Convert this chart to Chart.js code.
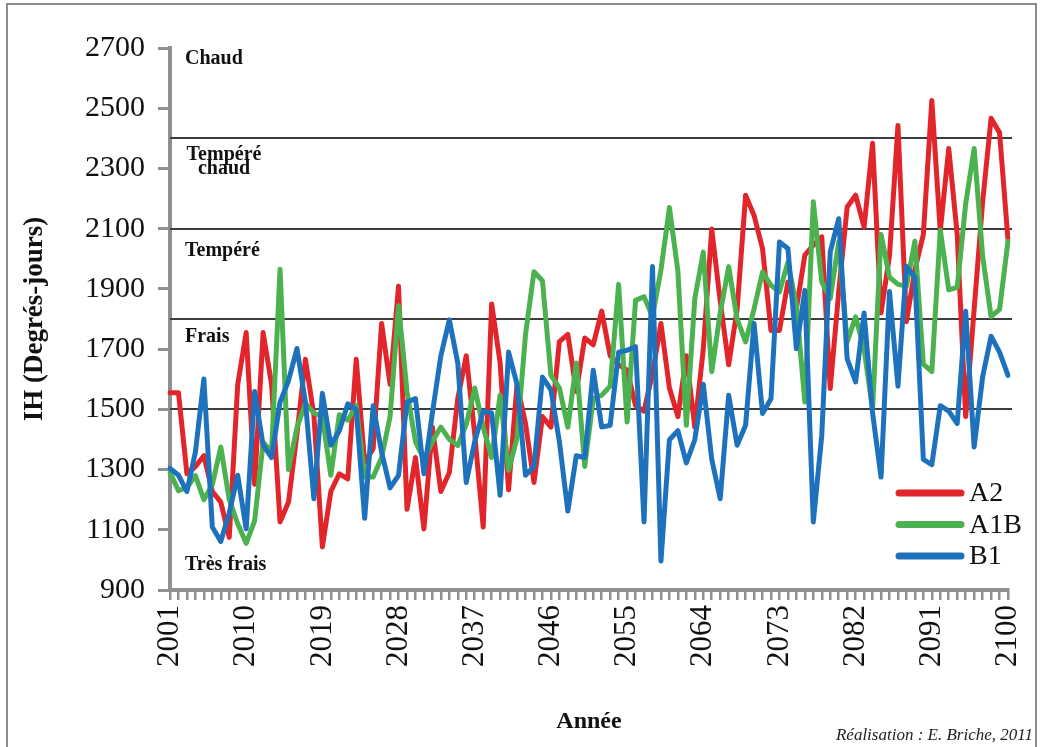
<!DOCTYPE html>
<html>
<head>
<meta charset="utf-8">
<script src="https://cdn.jsdelivr.net/npm/chart.js@4.4.1/dist/chart.umd.min.js"></script>
<style>
  html,body{margin:0;padding:0;background:#fff}
  #wrap{width:1043px;height:747px}
</style>
</head>
<body>
<div id="wrap"><canvas id="c" width="1043" height="747"></canvas></div>
<script>
/* IH (indice héliothermique) 2001-2100, scénarios A2 / A1B / B1 */
const annees = Array.from({length:100},(_,i)=>2001+i);
const anneesAffichees = [2001,2010,2019,2028,2037,2046,2055,2064,2073,2082,2091,2100];

const a2 = [
  1555,1555,1286,1310,1346,1227,1192,1075,1583,1755,
  1251,1755,1583,1126,1192,1420,1666,1480,1043,1227,
  1286,1269,1666,1322,1370,1785,1583,1909,1168,1340,
  1103,1441,1227,1290,1536,1678,1417,1109,1850,1654,
  1233,1583,1453,1257,1476,1441,1725,1749,1559,1737,
  1714,1826,1678,1648,1630,1512,1494,1619,1785,1571,
  1476,1678,1441,1700,2099,1860,1648,1832,2211,2144,
  2034,1762,1762,1923,1834,2012,2045,2073,1569,1890,
  2172,2211,2105,2384,1820,2010,2443,1791,1963,2081,
  2526,2093,2366,2081,1476,1832,2188,2467,2419,2063
];
const a1b = [
  1290,1230,1240,1280,1200,1250,1375,1200,1120,1055,
  1130,1390,1360,1965,1300,1440,1520,1488,1476,1281,
  1482,1464,1512,1275,1275,1340,1476,1844,1559,1393,
  1334,1393,1441,1400,1380,1450,1571,1441,1340,1547,
  1298,1405,1749,1957,1927,1613,1571,1441,1654,1310,
  1536,1547,1577,1915,1458,1862,1874,1808,1963,2170,
  1960,1447,1868,2022,1625,1820,1974,1800,1724,1834,
  1956,1912,1890,1989,1845,1524,2189,1923,1868,2056,
  1724,1807,1700,1500,2081,1939,1915,1909,2058,1650,
  1625,2095,1897,1905,2182,2366,2010,1808,1832,2058
];
const b1 = [
  1304,1281,1227,1358,1601,1109,1061,1156,1281,1103,
  1559,1381,1340,1524,1595,1702,1524,1203,1553,1381,
  1429,1518,1500,1138,1512,1358,1239,1281,1524,1536,
  1286,1488,1678,1797,1654,1257,1393,1494,1488,1215,
  1690,1583,1281,1310,1607,1565,1393,1162,1346,1340,
  1630,1441,1447,1690,1696,1708,1126,1974,996,1399,
  1429,1322,1399,1583,1334,1203,1547,1381,1447,1785,
  1486,1535,2056,2034,1701,1895,1126,1414,2023,2133,
  1668,1591,1820,1488,1275,1891,1577,1974,1939,1334,
  1316,1512,1494,1453,1826,1375,1607,1743,1690,1613
];

const seuils = [1500,1800,2100,2400];
const zones = [
  {txt:'Chaud', v:2663},
  {txt:'Tempéré', v:2345, centre:true},
  {txt:'chaud', v:2300, centre:true},
  {txt:'Tempéré', v:2026},
  {txt:'Frais', v:1740},
  {txt:'Très frais', v:983}
];

const SERIF = "'Liberation Serif', serif";

/* cadre, seuils, zones, légende, crédit */
const decor = {
  id:'decor',
  beforeDraw(ch){
    const c = ch.ctx;
    c.save();
    c.fillStyle = '#fff'; c.fillRect(0,0,ch.width,ch.height);
    c.strokeStyle = '#8c8c8c'; c.lineWidth = 2;
    c.strokeRect(7,4,1029,800);
    c.restore();
  },
  beforeDatasetsDraw(ch){
    const {ctx:c, chartArea:a, scales:{y}} = ch;
    c.save();
    c.strokeStyle = '#3d3d3d'; c.lineWidth = 2;
    seuils.forEach(v=>{
      const py = Math.round(y.getPixelForValue(v));
      c.beginPath(); c.moveTo(a.left,py); c.lineTo(a.right+4,py); c.stroke();
    });
    c.fillStyle = '#111'; c.font = 'bold 20px ' + SERIF; c.textBaseline = 'middle';
    zones.forEach(z=>{
      c.textAlign = z.centre ? 'center' : 'left';
      c.fillText(z.txt, z.centre ? 224 : 185, y.getPixelForValue(z.v));
    });
    c.restore();
  },
  afterDraw(ch){
    const c = ch.ctx;
    c.save();
    ch.data.datasets.forEach((d,i)=>{
      const py = 493 + i*31.5;
      c.strokeStyle = d.borderColor; c.lineWidth = 7; c.lineCap = 'round';
      c.beginPath(); c.moveTo(899,py); c.lineTo(961,py); c.stroke();
      c.fillStyle = '#111'; c.font = '28px ' + SERIF; c.textBaseline = 'middle'; c.textAlign = 'left';
      c.fillText(d.label, 969, py+1);
    });
    c.font = 'italic 17px ' + SERIF; c.textAlign = 'right'; c.fillStyle = '#222';
    c.fillText('Réalisation : E. Briche, 2011', 1033, 736);
    c.restore();
  }
};

new Chart(document.getElementById('c'), {
  type:'line',
  data:{
    labels:annees,
    datasets:[
      {label:'A2',  data:a2,  borderColor:'#e2252b', order:2},
      {label:'A1B', data:a1b, borderColor:'#4bb24f', order:1},
      {label:'B1',  data:b1,  borderColor:'#1e72bd', order:0}
    ]
  },
  options:{
    responsive:false, animation:false, devicePixelRatio:1,
    layout:{padding:{left:0,right:35,top:48,bottom:0}},
    plugins:{legend:{display:false}, tooltip:{enabled:false}},
    elements:{
      point:{radius:0},
      line:{tension:0, borderWidth:5, borderJoinStyle:'round', borderCapStyle:'round', fill:false}
    },
    scales:{
      x:{
        offset:false,
        grid:{drawOnChartArea:false, drawTicks:true, tickLength:10, color:'#8f8f8f', lineWidth:2.5},
        border:{display:true, color:'#8f8f8f', width:4},
        ticks:{
          autoSkip:false, maxRotation:90, minRotation:90, padding:5, color:'#111',
          font:{family:SERIF, size:31},
          callback(v,i){ return anneesAffichees.includes(annees[i]) ? String(annees[i]) : ''; }
        },
        title:{display:true, text:'Année', color:'#111', font:{family:SERIF, size:24, weight:'bold'}, padding:{top:0,bottom:11}},
        afterFit(s){ s.height = 157; s.paddingLeft = 0; s.paddingRight = 0; }
      },
      y:{
        min:900, max:2700,
        ticks:{stepSize:200, padding:13, color:'#111', font:{family:SERIF, size:30},
               callback:v=>String(v)},
        grid:{drawOnChartArea:false, drawTicks:true, tickLength:12, color:'#8f8f8f', lineWidth:3},
        border:{color:'#8f8f8f', width:4},
        title:{display:true, text:'IH (Degrés-jours)', color:'#111', font:{family:SERIF, size:27, weight:'bold'}, padding:{top:19,bottom:0}},
        afterFit(s){ s.width = 170; }
      }
    }
  },
  plugins:[decor]
});
</script>
</body>
</html>
